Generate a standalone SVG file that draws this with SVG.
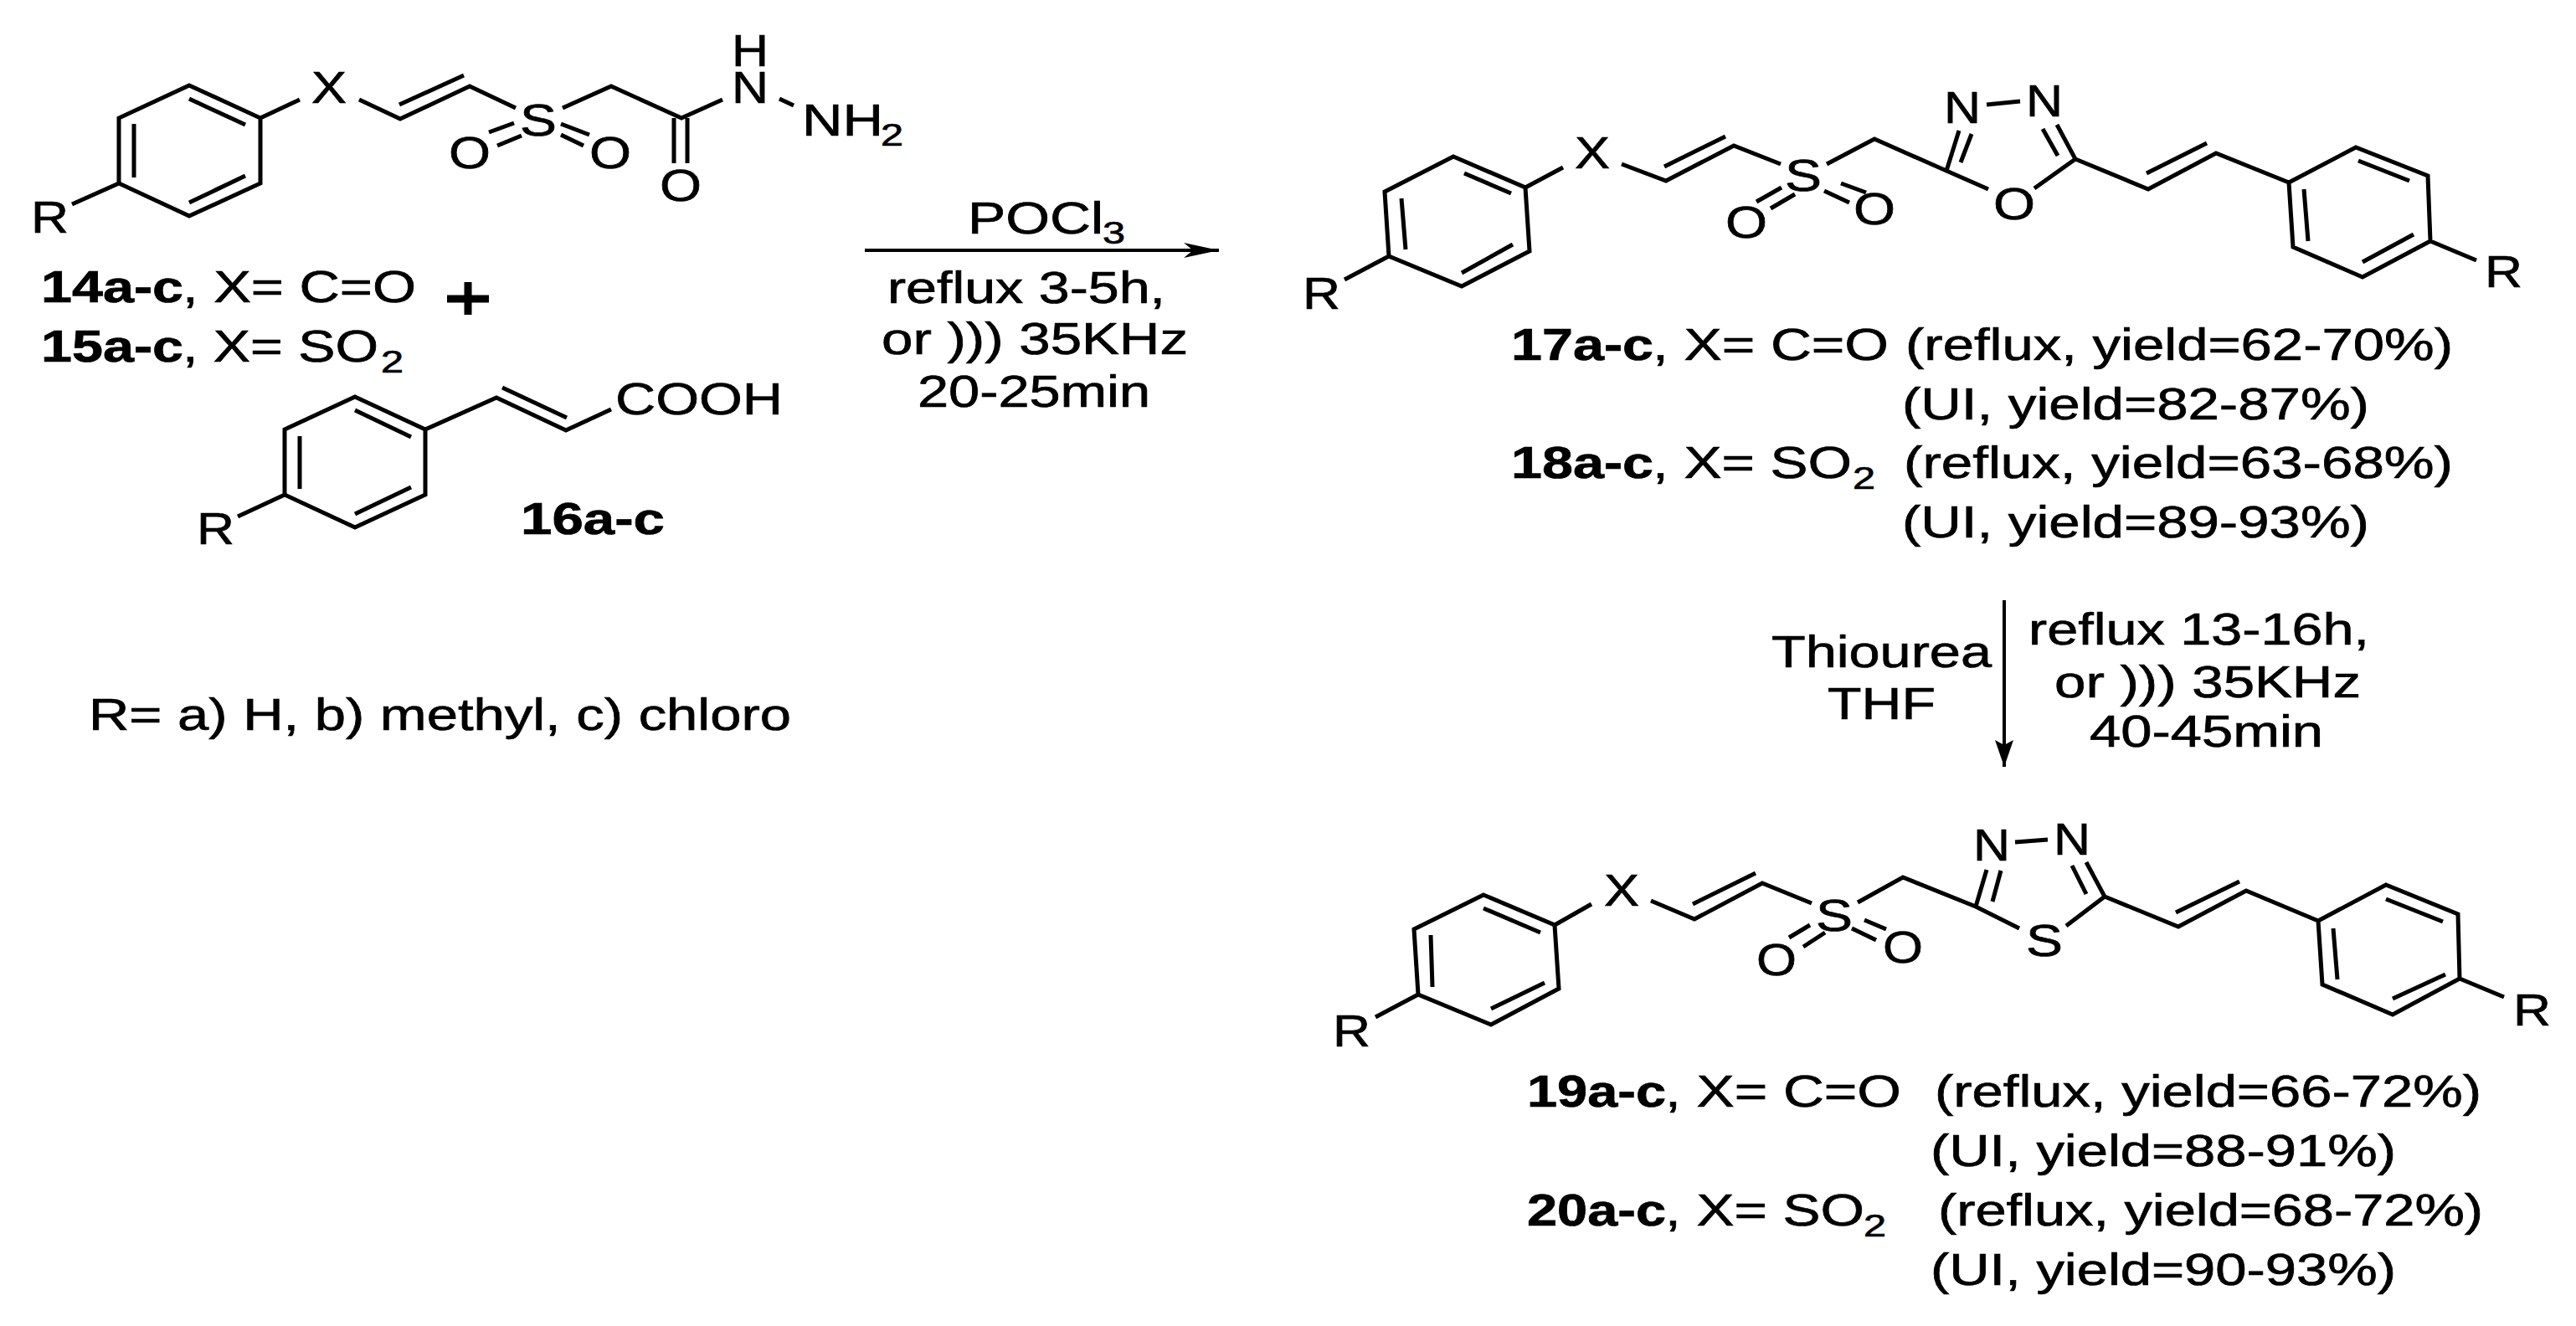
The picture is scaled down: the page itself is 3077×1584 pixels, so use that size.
<svg xmlns="http://www.w3.org/2000/svg" width="3077" height="1584" viewBox="0 0 3077 1584">
<style>
text{font-family:"Liberation Sans",Arial,sans-serif;font-size:54px;fill:#000;stroke:#000;stroke-width:.7}
.b{font-weight:bold}
.s{font-size:36px}
.bond{fill:none;stroke:#000;stroke-width:5;stroke-linejoin:miter;stroke-linecap:butt}
.arrow{fill:none;stroke:#000;stroke-width:4}
</style>
<defs>
<marker id="head" markerUnits="userSpaceOnUse" markerWidth="44" markerHeight="20" refX="42" refY="9" orient="auto" overflow="visible"><path d="M42 9L0 0L11 9L0 18Z" fill="#000"/></marker>
<marker id="head2" markerUnits="userSpaceOnUse" markerWidth="34" markerHeight="24" refX="32" refY="11" orient="auto" overflow="visible"><path d="M32 11L0 0L6 11L0 22Z" fill="#000"/></marker>
</defs>
<rect width="3077" height="1584" fill="#fff"/>
<g id="connectors">
<path class="arrow" d="M1033 299H1456" marker-end="url(#head)"/>
<path class="arrow" d="M2394 717V916" marker-end="url(#head2)"/>
</g>
<g id="compound-14">
<path class="bond" d="M226 102L311 141V219L226 258L142 219V141ZM226 118L293 149M160 148V212M226 242L293 210M142 219L86 244M311 141L358 119M429 119L478 142L561 103L616 129M477 125L554 90M672 129L730 103L814 141L863 119M931 118L948 126M805 141V195M821 141V195M584 158L614 147M594 174L623 162M670 148L704 161M670 161L697 174"/>
<text x="37" y="278" textLength="45" lengthAdjust="spacingAndGlyphs">R</text>
<text x="372" y="123" textLength="42" lengthAdjust="spacingAndGlyphs">X</text>
<text x="621" y="162" textLength="44" lengthAdjust="spacingAndGlyphs">S</text>
<text x="874" y="79" textLength="44" lengthAdjust="spacingAndGlyphs">H</text>
<text x="874" y="123" textLength="44" lengthAdjust="spacingAndGlyphs">N</text>
<text x="958" y="162" textLength="97" lengthAdjust="spacingAndGlyphs">NH</text>
<text class="s" x="1052" y="174" textLength="27" lengthAdjust="spacingAndGlyphs">2</text>
<text x="536" y="201" textLength="50" lengthAdjust="spacingAndGlyphs">O</text>
<text x="704" y="201" textLength="50" lengthAdjust="spacingAndGlyphs">O</text>
<text x="788" y="240" textLength="50" lengthAdjust="spacingAndGlyphs">O</text>
<text class="b" x="49" y="361" textLength="170" lengthAdjust="spacingAndGlyphs">14a-c</text>
<text x="218" y="361" textLength="279" lengthAdjust="spacingAndGlyphs">, X= C=O</text>
<text class="b" x="49" y="432" textLength="170" lengthAdjust="spacingAndGlyphs">15a-c</text>
<text x="218" y="432" textLength="234" lengthAdjust="spacingAndGlyphs">, X= SO</text>
<text class="s" x="455" y="445" textLength="27" lengthAdjust="spacingAndGlyphs">2</text>
</g>
<g id="plus"><path d="M534 357H584M559 337V376" fill="none" stroke="#000" stroke-width="9"/></g>
<g id="compound-16">
<path class="bond" d="M424 474L508 513V591L424 630L340 591V513ZM424 490L491 522M358 521V584M424 614L491 582M340 591L284 617M508 513L593 475L676 514L730 489M600 463L677 499"/>
<text x="235" y="650" textLength="45" lengthAdjust="spacingAndGlyphs">R</text>
<text x="735" y="495" textLength="200" lengthAdjust="spacingAndGlyphs">COOH</text>
<text class="b" x="622" y="638" textLength="172" lengthAdjust="spacingAndGlyphs">16a-c</text>
</g>
<g id="conditions-1">
<text x="1156" y="279" textLength="162" lengthAdjust="spacingAndGlyphs">POCl</text>
<text class="s" x="1317" y="291" textLength="27" lengthAdjust="spacingAndGlyphs">3</text>
<text x="1060" y="362" textLength="332" lengthAdjust="spacingAndGlyphs">reflux 3-5h,</text>
<text x="1053" y="423" textLength="366" lengthAdjust="spacingAndGlyphs">or ))) 35KHz</text>
<text x="1096" y="486" textLength="278" lengthAdjust="spacingAndGlyphs">20-25min</text>
</g>
<g id="compound-17">
<path class="bond" d="M1736 187L1822 224L1827 300L1746 342L1659 306L1654 229ZM1749 207L1805 231M1674 237L1679 298M1746 326L1807 292M1659 306L1606 334M1822 224L1867 200M1937 196L1990 216L2071 174L2127 196M1988 199L2061 163M2182 196L2239 166L2325 204L2375 226M2430 225L2479 190L2457 149M2325 204L2340 156M2342 194L2355 160M2373 125L2413 121M2440 154L2458 186M2479 190L2566 226L2647 183L2734 218M2564 207L2636 171M2734 218L2814 176L2900 210L2903 288L2822 331L2739 295ZM2752 226L2757 288M2817 192L2878 216M2822 313L2883 280M2903 288L2958 311M2098 241L2128 224M2115 249L2144 232M2179 228L2209 242M2199 219L2229 230"/>
<text x="1556" y="369" textLength="45" lengthAdjust="spacingAndGlyphs">R</text>
<text x="1881" y="201" textLength="42" lengthAdjust="spacingAndGlyphs">X</text>
<text x="2132" y="228" textLength="44" lengthAdjust="spacingAndGlyphs">S</text>
<text x="2322" y="147" textLength="44" lengthAdjust="spacingAndGlyphs">N</text>
<text x="2420" y="139" textLength="44" lengthAdjust="spacingAndGlyphs">N</text>
<text x="2381" y="262" textLength="50" lengthAdjust="spacingAndGlyphs">O</text>
<text x="2061" y="284" textLength="50" lengthAdjust="spacingAndGlyphs">O</text>
<text x="2214" y="268" textLength="50" lengthAdjust="spacingAndGlyphs">O</text>
<text x="2968" y="343" textLength="45" lengthAdjust="spacingAndGlyphs">R</text>
<text class="b" x="1805" y="430" textLength="170" lengthAdjust="spacingAndGlyphs">17a-c</text>
<text x="1974" y="430" textLength="282" lengthAdjust="spacingAndGlyphs">, X= C=O</text>
<text x="2276" y="430" textLength="654" lengthAdjust="spacingAndGlyphs">(reflux, yield=62-70%)</text>
<text x="2272" y="501" textLength="558" lengthAdjust="spacingAndGlyphs">(UI, yield=82-87%)</text>
<text class="b" x="1805" y="571" textLength="170" lengthAdjust="spacingAndGlyphs">18a-c</text>
<text x="1974" y="571" textLength="238" lengthAdjust="spacingAndGlyphs">, X= SO</text>
<text class="s" x="2213" y="584" textLength="27" lengthAdjust="spacingAndGlyphs">2</text>
<text x="2274" y="571" textLength="656" lengthAdjust="spacingAndGlyphs">(reflux, yield=63-68%)</text>
<text x="2272" y="642" textLength="558" lengthAdjust="spacingAndGlyphs">(UI, yield=89-93%)</text>
</g>
<g id="conditions-2">
<text x="2116" y="797" textLength="263" lengthAdjust="spacingAndGlyphs">Thiourea</text>
<text x="2183" y="859" textLength="129" lengthAdjust="spacingAndGlyphs">THF</text>
<text x="2423" y="770" textLength="407" lengthAdjust="spacingAndGlyphs">reflux 13-16h,</text>
<text x="2454" y="833" textLength="366" lengthAdjust="spacingAndGlyphs">or ))) 35KHz</text>
<text x="2496" y="892" textLength="279" lengthAdjust="spacingAndGlyphs">40-45min</text>
</g>
<g id="compound-19">
<path class="bond" d="M1772 1069L1857 1105L1862 1181L1781 1224L1694 1188L1689 1110ZM1772 1085L1840 1114M1709 1117L1711 1179M1781 1205L1845 1174M1694 1188L1643 1215M1857 1105L1901 1080M1972 1076L2024 1098L2105 1055L2164 1079M2022 1080L2097 1043M2219 1078L2273 1048L2360 1083L2412 1109M2468 1106L2514 1071L2492 1030M2360 1083L2373 1039M2380 1077L2390 1040M2407 1006L2446 1003M2492 1068L2475 1034M2514 1071L2602 1107L2683 1064L2769 1100M2599 1090L2675 1053M2769 1100L2850 1057L2936 1092L2938 1169L2858 1212L2774 1176ZM2787 1109L2792 1170M2850 1074L2918 1101M2858 1193L2921 1164M2938 1169L2991 1191M2137 1120L2162 1105M2154 1131L2180 1114M2212 1109L2241 1123M2227 1099L2253 1110"/>
<text x="1592" y="1250" textLength="45" lengthAdjust="spacingAndGlyphs">R</text>
<text x="1916" y="1082" textLength="42" lengthAdjust="spacingAndGlyphs">X</text>
<text x="2169" y="1112" textLength="44" lengthAdjust="spacingAndGlyphs">S</text>
<text x="2357" y="1028" textLength="44" lengthAdjust="spacingAndGlyphs">N</text>
<text x="2453" y="1021" textLength="44" lengthAdjust="spacingAndGlyphs">N</text>
<text x="2420" y="1142" textLength="44" lengthAdjust="spacingAndGlyphs">S</text>
<text x="2098" y="1165" textLength="48" lengthAdjust="spacingAndGlyphs">O</text>
<text x="2249" y="1150" textLength="48" lengthAdjust="spacingAndGlyphs">O</text>
<text x="3002" y="1225" textLength="45" lengthAdjust="spacingAndGlyphs">R</text>
<text class="b" x="1824" y="1322" textLength="166" lengthAdjust="spacingAndGlyphs">19a-c</text>
<text x="1989" y="1322" textLength="282" lengthAdjust="spacingAndGlyphs">, X= C=O</text>
<text x="2311" y="1322" textLength="653" lengthAdjust="spacingAndGlyphs">(reflux, yield=66-72%)</text>
<text x="2306" y="1393" textLength="556" lengthAdjust="spacingAndGlyphs">(UI, yield=88-91%)</text>
<text class="b" x="1824" y="1464" textLength="166" lengthAdjust="spacingAndGlyphs">20a-c</text>
<text x="1989" y="1464" textLength="238" lengthAdjust="spacingAndGlyphs">, X= SO</text>
<text class="s" x="2226" y="1477" textLength="27" lengthAdjust="spacingAndGlyphs">2</text>
<text x="2315" y="1464" textLength="651" lengthAdjust="spacingAndGlyphs">(reflux, yield=68-72%)</text>
<text x="2306" y="1535" textLength="556" lengthAdjust="spacingAndGlyphs">(UI, yield=90-93%)</text>
</g>
<g id="r-groups">
<text x="106" y="872" textLength="839" lengthAdjust="spacingAndGlyphs">R= a) H, b) methyl, c) chloro</text>
</g>
</svg>
